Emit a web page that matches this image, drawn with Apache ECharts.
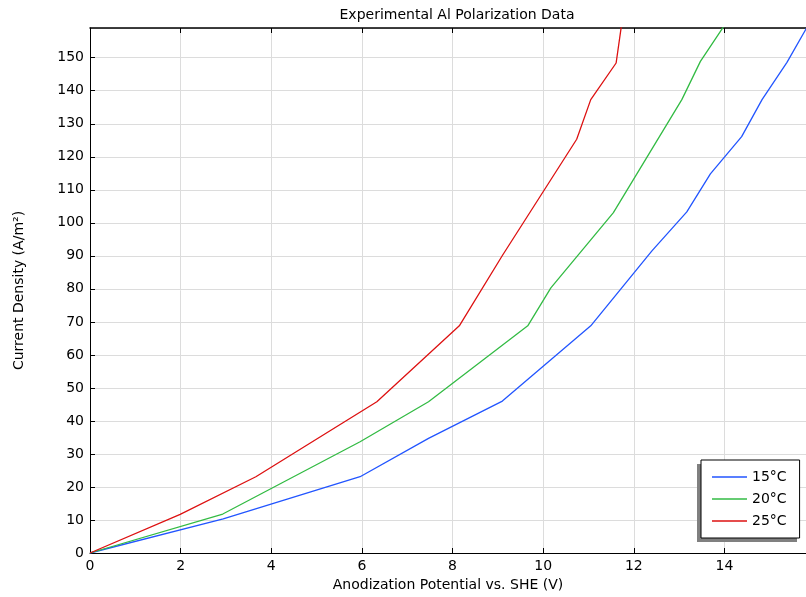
<!DOCTYPE html>
<html>
<head>
<meta charset="utf-8">
<script src="https://cdn.jsdelivr.net/npm/echarts@6/dist/echarts.min.js"></script>
<style>
  html, body { margin: 0; padding: 0; background: #fff; }
  #main { width: 806px; height: 597px; }
</style>
</head>
<body>
<div id="main"></div>
<script>
// 图表数据
var seriesNames = ['15°C', '20°C', '25°C'];

var x15 = [0, 2.94, 5.96, 7.47, 9.1, 11.05, 12.4, 13.17, 13.69, 14.38, 14.83, 15.38, 15.85];
var y15 = [0, 10.3, 23.1, 34.7, 46.0, 68.8, 91.5, 103.3, 114.8, 126.1, 137.3, 148.6, 159.9];

var x20 = [0, 2.93, 5.96, 7.47, 9.66, 10.17, 11.55, 13.06, 13.47, 14.01];
var y20 = [0, 11.8, 33.7, 45.8, 68.8, 80.3, 103.1, 137.3, 148.9, 160];

var x25 = [0, 1.99, 3.66, 6.33, 8.15, 9.1, 10.74, 11.05, 11.61, 11.73];
var y25 = [0, 11.7, 23.1, 45.8, 68.8, 90.1, 125.3, 137.3, 148.4, 160];

var colors = ['#2255ff', '#33bb44', '#dd1111'];

function pairs(xs, ys) {
    var out = [];
    for (var i = 0; i < xs.length; i++) {
        out.push([xs[i], ys[i]]);
    }
    return out;
}

var font = 'DejaVu Sans';
var chart = echarts.init(document.getElementById('main'));

// 图例用细线图标
var lineIcon = 'path://M0,0 L35,0 L35,1.4 L0,1.4 Z';

var option = {
    animation: false,
    backgroundColor: '#fff',
    title: {
        text: 'Experimental Al Polarization Data',
        left: 452,
        textAlign: 'center',
        top: 3,
        textStyle: { fontFamily: font, fontSize: 14, fontWeight: 'normal', color: '#000' }
    },
    grid: { left: 90, right: 0, top: 28, bottom: 41, containLabel: false },
    // 图例阴影 (灰色块)
    graphic: [{
        type: 'rect',
        z: 3,
        shape: { x: 697, y: 464, width: 100, height: 78 },
        style: { fill: '#808080' }
    }],
    legend: {
        orient: 'vertical',
        z: 5,
        left: 701,
        top: 460,
        padding: [10, 13, 10, 11],
        itemGap: 8,
        itemWidth: 35,
        itemHeight: 14,
        icon: lineIcon,
        backgroundColor: '#fff',
        borderColor: '#000',
        borderWidth: 1,
        textStyle: { fontFamily: font, fontSize: 14, color: '#000' },
        data: seriesNames
    },
    xAxis: [
        {
            type: 'value',
            min: 0,
            max: 15.8,
            interval: 2,
            name: 'Anodization Potential vs. SHE (V)',
            nameLocation: 'middle',
            nameGap: 25,
            nameTextStyle: { fontFamily: font, fontSize: 14, color: '#000' },
            axisLine: { show: true, onZero: false, lineStyle: { color: '#000', width: 1 } },
            axisTick: { show: true, inside: true, length: 5, lineStyle: { color: '#000' } },
            axisLabel: { fontFamily: font, fontSize: 14, color: '#000', margin: 6, showMaxLabel: false },
            splitLine: { show: true, lineStyle: { color: '#dcdcdc', width: 1 } }
        },
        {
            type: 'value',
            position: 'top',
            min: 0,
            max: 15.8,
            interval: 2,
            axisLine: { show: true, onZero: false, lineStyle: { color: '#000', width: 1.5 } },
            axisTick: { show: true, inside: true, length: 5, lineStyle: { color: '#000' } },
            axisLabel: { show: false },
            splitLine: { show: false }
        }
    ],
    yAxis: {
        type: 'value',
        min: 0,
        max: 159,
        interval: 10,
        name: 'Current Density (A/m²)',
        nameLocation: 'middle',
        nameGap: 64,
        nameTextStyle: { fontFamily: font, fontSize: 14, color: '#000' },
        axisLine: { show: true, onZero: false, lineStyle: { color: '#000', width: 1 } },
        axisTick: { show: true, inside: true, length: 5, lineStyle: { color: '#000' } },
        axisLabel: { fontFamily: font, fontSize: 14, color: '#000', margin: 6, showMaxLabel: false },
        splitLine: { show: true, lineStyle: { color: '#dcdcdc', width: 1 } }
    },
    series: [
        { name: seriesNames[0], type: 'line', symbol: 'none', data: pairs(x15, y15),
          lineStyle: { color: colors[0], width: 1.3 }, itemStyle: { color: colors[0] } },
        { name: seriesNames[1], type: 'line', symbol: 'none', data: pairs(x20, y20),
          lineStyle: { color: colors[1], width: 1.3 }, itemStyle: { color: colors[1] } },
        { name: seriesNames[2], type: 'line', symbol: 'none', data: pairs(x25, y25),
          lineStyle: { color: colors[2], width: 1.3 }, itemStyle: { color: colors[2] } }
    ]
};

chart.setOption(option);
</script>
</body>
</html>
